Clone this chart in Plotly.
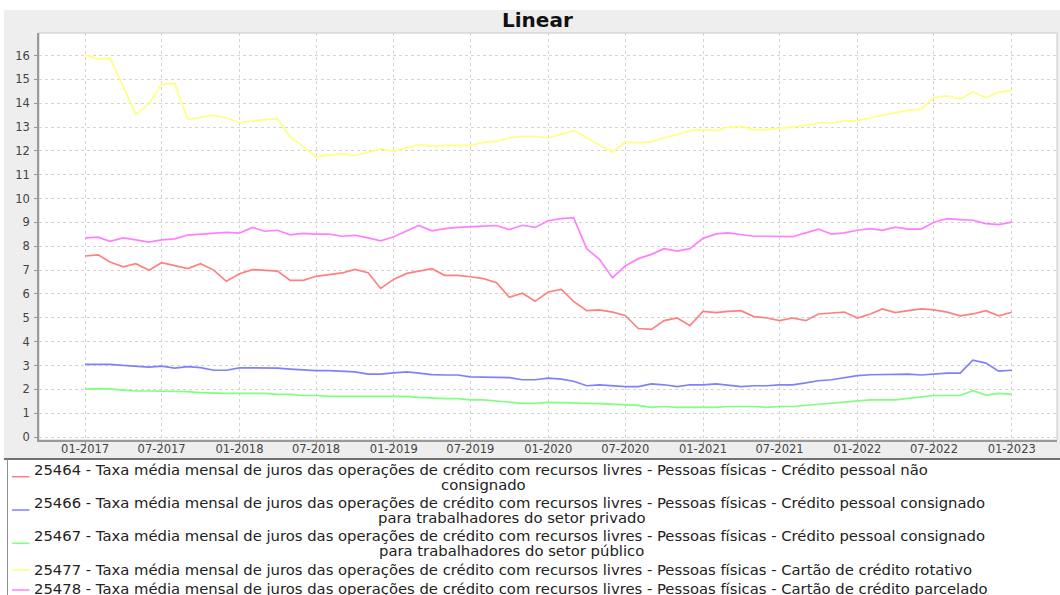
import plotly.graph_objects as go
import pandas as pd

# ---------------- data ----------------
months = pd.date_range("2017-01-01", "2023-01-01", freq="MS")

s25464 = [7.59, 7.64, 7.34, 7.14, 7.27, 6.99, 7.31, 7.20, 7.06, 7.27,
          7.00, 6.53, 6.85, 7.02, 7.00, 6.96, 6.57, 6.57, 6.74, 6.82,
          6.88, 7.03, 6.89, 6.23, 6.62, 6.86, 6.95, 7.06, 6.78, 6.78,
          6.72, 6.64, 6.47, 5.86, 6.03, 5.69, 6.08, 6.19, 5.69, 5.30,
          5.33, 5.24, 5.10, 4.55, 4.51, 4.88, 4.99, 4.67, 5.27, 5.22,
          5.27, 5.30, 5.05, 4.99, 4.88, 4.99, 4.88, 5.16, 5.20, 5.24,
          4.99, 5.16, 5.37, 5.22, 5.30, 5.37, 5.33, 5.24, 5.08, 5.16,
          5.30, 5.08, 5.23]

s25466 = [3.05, 3.05, 3.05, 3.00, 2.98, 2.93, 2.97, 2.89, 2.95, 2.91,
          2.80, 2.80, 2.90, 2.90, 2.90, 2.89, 2.85, 2.80, 2.78, 2.78,
          2.76, 2.73, 2.64, 2.64, 2.69, 2.73, 2.68, 2.62, 2.60, 2.60,
          2.52, 2.52, 2.52, 2.49, 2.40, 2.40, 2.47, 2.43, 2.34, 2.15,
          2.19, 2.15, 2.11, 2.11, 2.23, 2.19, 2.11, 2.19, 2.19, 2.23,
          2.18, 2.11, 2.15, 2.15, 2.19, 2.19, 2.27, 2.36, 2.40, 2.48,
          2.57, 2.61, 2.61, 2.64, 2.64, 2.60, 2.64, 2.68, 2.68, 3.22,
          3.10, 2.76, 2.80]

s25467 = [2.02, 2.02, 2.02, 1.97, 1.93, 1.93, 1.93, 1.90, 1.90, 1.86,
          1.83, 1.83, 1.83, 1.83, 1.83, 1.79, 1.79, 1.74, 1.74, 1.70,
          1.70, 1.70, 1.70, 1.70, 1.70, 1.70, 1.66, 1.62, 1.61, 1.61,
          1.56, 1.56, 1.50, 1.45, 1.41, 1.41, 1.45, 1.44, 1.44, 1.41,
          1.40, 1.38, 1.33, 1.33, 1.24, 1.28, 1.24, 1.24, 1.24, 1.24,
          1.28, 1.28, 1.28, 1.24, 1.28, 1.28, 1.33, 1.38, 1.41, 1.45,
          1.52, 1.56, 1.56, 1.56, 1.62, 1.69, 1.74, 1.74, 1.74, 1.94,
          1.76, 1.83, 1.79]

s25477 = [16.02, 15.86, 15.89, 14.70, 13.53, 13.97, 14.80, 14.83, 13.30, 13.42,
          13.49, 13.38, 13.18, 13.26, 13.30, 13.35, 12.57, 12.19, 11.74, 11.83,
          11.87, 11.81, 11.94, 12.08, 11.98, 12.12, 12.27, 12.19, 12.23, 12.23,
          12.23, 12.36, 12.40, 12.55, 12.61, 12.61, 12.54, 12.70, 12.85, 12.55,
          12.25, 11.94, 12.38, 12.34, 12.38, 12.55, 12.68, 12.85, 12.89, 12.85,
          13.00, 13.03, 12.89, 12.89, 12.94, 13.00, 13.07, 13.17, 13.18, 13.26,
          13.26, 13.40, 13.49, 13.61, 13.70, 13.75, 14.24, 14.31, 14.17, 14.48,
          14.24, 14.45, 14.53]

s25478 = [8.35, 8.38, 8.21, 8.35, 8.27, 8.17, 8.27, 8.31, 8.47, 8.51,
          8.54, 8.58, 8.55, 8.79, 8.63, 8.67, 8.48, 8.54, 8.51, 8.51,
          8.42, 8.46, 8.35, 8.23, 8.40, 8.63, 8.87, 8.65, 8.74, 8.79,
          8.80, 8.84, 8.87, 8.70, 8.88, 8.79, 9.07, 9.16, 9.20, 7.90,
          7.45, 6.68, 7.17, 7.48, 7.66, 7.90, 7.80, 7.90, 8.33, 8.52,
          8.56, 8.48, 8.42, 8.42, 8.40, 8.40, 8.56, 8.72, 8.51, 8.56,
          8.67, 8.74, 8.67, 8.80, 8.72, 8.72, 9.01, 9.16, 9.12, 9.09,
          8.95, 8.91, 9.01]

series_values = [s25464, s25466, s25467, s25477, s25478]
series_colors = ["#ff8080", "#8080ff", "#80ff80", "#ffff80", "#ff80ff"]

base = "Taxa média mensal de juros das operações de crédito com recursos livres - Pessoas físicas - "
legend_labels = [
    ["25464 - " + base + "Crédito pessoal não", "consignado"],
    ["25466 - " + base + "Crédito pessoal consignado", "para trabalhadores do setor privado"],
    ["25467 - " + base + "Crédito pessoal consignado", "para trabalhadores do setor público"],
    ["25477 - " + base + "Cartão de crédito rotativo"],
    ["25478 - " + base + "Cartão de crédito parcelado"],
]
title_text = "Linear"

# ---------------- layout geometry (pixels) ----------------
W, H = 1060, 595
L, R, T, B = 39, 1057, 33, 440
pw, ph = R - L, B - T


def px(x):
    return (x - L) / pw


def py(y):
    return (B - y) / ph


fig = go.Figure()
for vals, col, lab in zip(series_values, series_colors, legend_labels):
    fig.add_trace(go.Scatter(x=months, y=vals, mode="lines",
                             line=dict(color=col, width=1.7),
                             name=lab[0].split(" - ")[0], showlegend=False))

shapes = []
# grey chart panel
shapes.append(dict(type="rect", xref="paper", yref="paper", layer="below",
                   x0=px(4), x1=px(1062), y0=py(459), y1=py(10),
                   fillcolor="#eeeeee", line=dict(width=0)))
# white plot area with outline
shapes.append(dict(type="rect", xref="paper", yref="paper", layer="below",
                   x0=0, x1=1, y0=0, y1=1,
                   fillcolor="white", line=dict(color="#c8c8c8", width=1)))
# legend box
shapes.append(dict(type="rect", xref="paper", yref="paper", layer="below",
                   x0=px(7), x1=px(1062), y0=py(600), y1=py(459),
                   fillcolor="white", line=dict(width=0)))
shapes.append(dict(type="line", xref="paper", yref="paper",
                   x0=px(4), x1=px(1062), y0=py(459), y1=py(459),
                   line=dict(color="#707070", width=2)))
shapes.append(dict(type="line", xref="paper", yref="paper",
                   x0=px(7.5), x1=px(7.5), y0=py(459), y1=py(600),
                   line=dict(color="#909090", width=1)))

annotations = [dict(text="<b>" + title_text + "</b>", xref="paper", yref="paper",
                    x=px(537.5), y=py(20), xanchor="center", yanchor="middle",
                    showarrow=False,
                    font=dict(family="DejaVu Sans", size=20, color="#111111"))]

# legend entry geometry: first-line centre y, marker y, centre x of second line
legend_first_y = [469, 502, 535.5, 569, 588]
legend_mark_y = [476.7, 510, 543.3, 570, 590]
legend_line2_cx = [483, 511, 511, None, None]
leg_font = dict(family="DejaVu Sans", size=14.8, color="#222222")
for lab, col, y1, ym, cx in zip(legend_labels, series_colors, legend_first_y,
                                legend_mark_y, legend_line2_cx):
    shapes.append(dict(type="line", xref="paper", yref="paper",
                       x0=px(12), x1=px(29.5), y0=py(ym), y1=py(ym),
                       line=dict(color=col, width=1.5)))
    annotations.append(dict(text=lab[0], xref="paper", yref="paper",
                            x=px(32), y=py(y1), xanchor="left", yanchor="middle",
                            showarrow=False, font=leg_font))
    if len(lab) > 1:
        annotations.append(dict(text=lab[1], xref="paper", yref="paper",
                                x=px(cx), y=py(y1 + 15), xanchor="center",
                                yanchor="middle", showarrow=False, font=leg_font))

fig.update_layout(
    width=W, height=H,
    margin=dict(l=L, r=W - R, t=T, b=H - B, pad=0),
    paper_bgcolor="white", plot_bgcolor="rgba(0,0,0,0)",
    shapes=shapes, annotations=annotations,
    showlegend=False,
)

fig.update_xaxes(
    type="date", range=["2016-09-14", "2023-04-18"],
    tick0="2017-01-01", dtick="M6", tickformat="%m-%Y",
    showgrid=True, gridcolor="#d4d4d4", griddash="dot", gridwidth=1,
    showline=True, linecolor="#999999", linewidth=1.5,
    ticks="outside", ticklen=3, tickcolor="#999999",
    tickfont=dict(family="DejaVu Sans", size=11.5, color="#444444"),
    ticklabelstandoff=-6, zeroline=False,
)
fig.update_yaxes(
    range=[-3 / 23.85, (437.1 - 33) / 23.85], dtick=1, tick0=0,
    showgrid=True, gridcolor="#d4d4d4", griddash="dot", gridwidth=1,
    showline=True, linecolor="#999999", linewidth=1.5,
    ticks="outside", ticklen=3, tickcolor="#999999",
    tickfont=dict(family="DejaVu Sans", size=11.5, color="#444444"),
    ticklabelstandoff=2, zeroline=False,
)

fig.write_html("out.html", config={"displayModeBar": False},
               post_script="document.body.style.margin='0px';document.body.style.overflow='hidden';")
